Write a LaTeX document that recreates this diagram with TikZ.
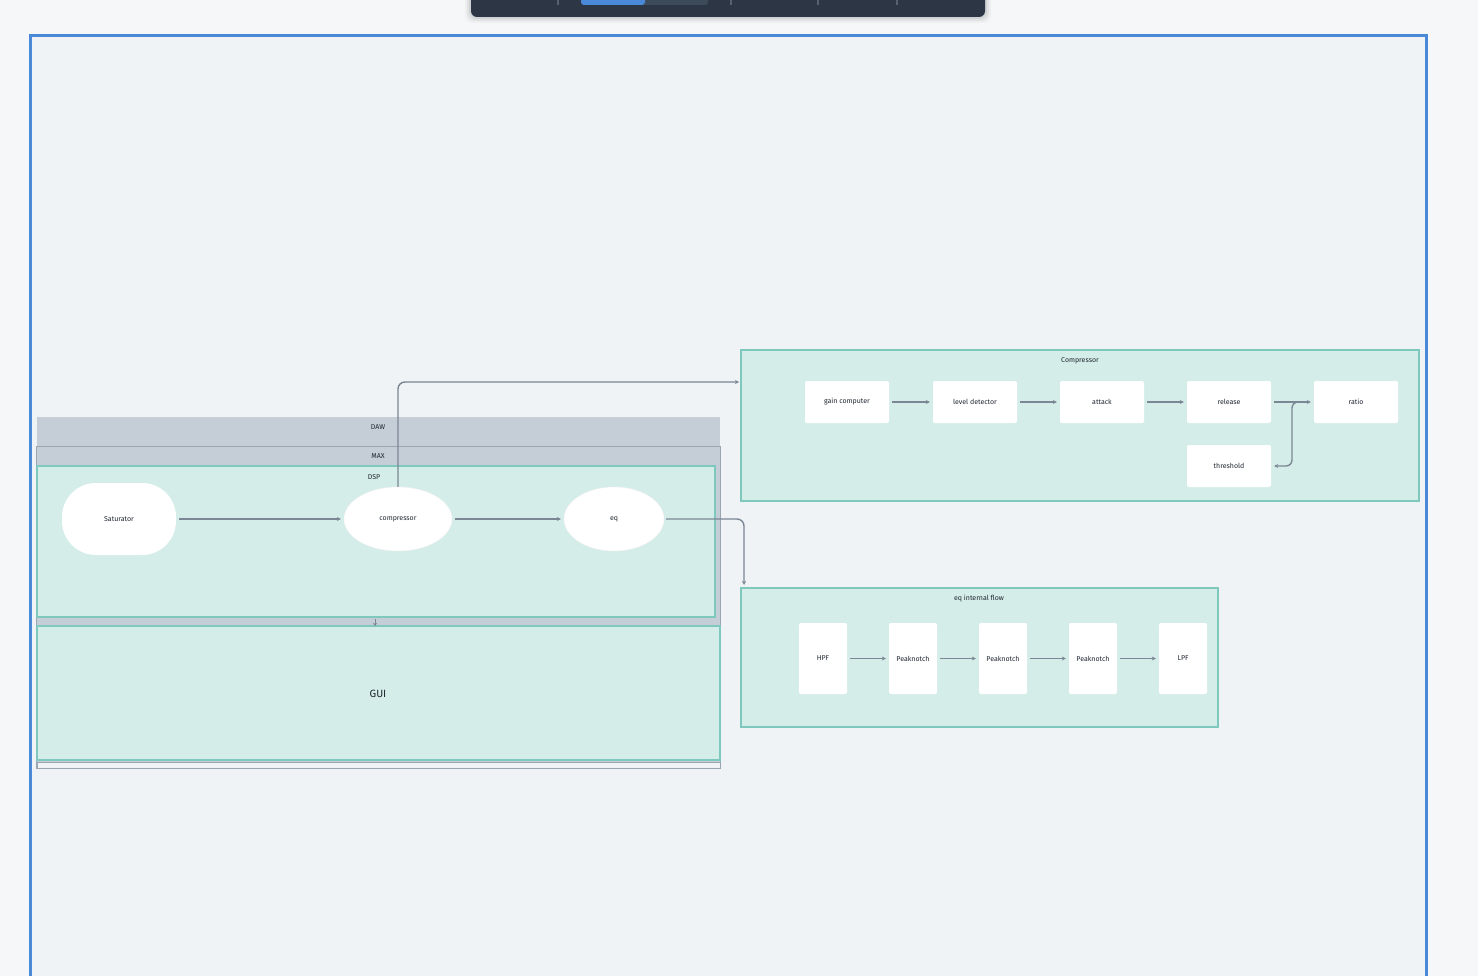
\documentclass[tikz,border=0pt]{standalone}
\usepackage{fontspec}
\setmainfont{Fira Sans}
\usetikzlibrary{shapes.geometric,arrows.meta}
\definecolor{pagebg}{HTML}{F5F7F9}
\definecolor{innerbg}{HTML}{EFF3F6}
\definecolor{frameblue}{HTML}{4A88D8}
\definecolor{tealfill}{HTML}{D5EDE9}
\definecolor{tealline}{HTML}{7EC8BD}
\definecolor{grayfill}{HTML}{C5CED7}
\definecolor{grayline}{HTML}{9AA5B1}
\definecolor{arrowc}{HTML}{7B8794}
\definecolor{toolbar}{HTML}{2C3644}
\definecolor{toolbar2}{HTML}{3D4A5A}
\definecolor{tick}{HTML}{556172}
\definecolor{txt}{HTML}{1F2630}
\tikzset{
  container/.style={draw=tealline, fill=tealfill, line width=1.2pt, inner sep=0pt},
  graybox/.style={fill=grayfill, inner sep=0pt},
  wbox/.style={fill=white, rounded corners=2pt, inner sep=0pt, font=\fontsize{7}{8}\selectfont, text=txt},
  oval/.style={ellipse, fill=white, draw=white!90!gray, inner sep=0pt, font=\fontsize{7}{8}\selectfont, text=txt},
  lbl/.style={font=\fontsize{7}{8}\selectfont, text=txt, inner sep=0pt},
  arr/.style={draw=arrowc, line width=1.4pt, -{Stealth[length=4pt,width=4pt]}},
}
\begin{document}
\begin{tikzpicture}[x=1pt,y=-1pt]
\useasboundingbox (0,0) rectangle (1478,976);
\fill[pagebg] (0,0) rectangle (1478,976);
% frame
\fill[innerbg] (30,36) rectangle (1426,980);
\draw[frameblue, line width=3pt] (30,980) -- (30,36) -- (1426,36) -- (1426,980);
% toolbar with shadow
\foreach \i/\o in {6/0.03,4/0.05,2/0.07}{
  \fill[black, opacity=\o, rounded corners=8pt] (471-\i,-10) rectangle (985+\i,17+\i);
}
\fill[toolbar, rounded corners=6pt] (471,-10) rectangle (985,17);
\fill[toolbar2, rounded corners=3pt] (581,-5) rectangle (708,5);
\fill[frameblue, rounded corners=3pt] (581,-5) rectangle (645,5);
\foreach \x in {558,731,818,897}{ \fill[tick] (\x-1,0) rectangle (\x+1,5); }

% DAW / MAX
\node[graybox, minimum width=683, minimum height=351] (daw) at (378.5,592.5) {};
\node[lbl] (dawl) at (378,427) {DAW};
\node[draw=grayline, line width=1pt, inner sep=0pt, minimum width=684, minimum height=322] (max) at (378,607) {};
\node[lbl] (maxl) at (378,456) {MAX};
\node[draw=grayline, fill=innerbg, line width=0.8pt, inner sep=0pt, minimum width=683, minimum height=6] (strip) at (378.5,765) {};
% DSP
\node[container, minimum width=678, minimum height=151] (dsp) at (376,541.5) {};
\node[lbl] (dspl) at (374,477) {DSP};
% GUI
\node[container, minimum width=683, minimum height=134] (gui) at (378.5,693) {};
\node[font=\fontsize{10.5}{12}\selectfont, text=txt] (guil) at (378,694) {GUI};
\draw[draw=arrowc, line width=1pt, -{Stealth[length=3pt,width=4pt]}] (375,619) -- (375,626);

% DSP nodes
\node[fill=white, rounded corners=34pt, minimum width=114, minimum height=72, inner sep=0pt, font=\fontsize{7}{8}\selectfont, text=txt] (sat) at (119,519) {Saturator};
\node[oval, minimum width=108, minimum height=64] (comp) at (398,519) {compressor};
\node[oval, minimum width=100, minimum height=64] (eq) at (614,519) {eq};
\draw[arr, shorten <=3pt, shorten >=3pt] (sat.east) -- (comp.west);
\draw[arr, shorten <=3pt, shorten >=3pt] (comp.east) -- (eq.west);

% Compressor box
\node[container, minimum width=678, minimum height=151] (cbox) at (1080,425.5) {};
\node[lbl] (cboxl) at (1080,361) {Compressor};
\node[wbox, minimum width=84, minimum height=42] (gc) at (847,402) {gain computer};
\node[wbox, minimum width=84, minimum height=42] (ld) at (975,402) {level detector};
\node[wbox, minimum width=84, minimum height=42] (att) at (1102,402) {attack};
\node[wbox, minimum width=84, minimum height=42] (rel) at (1229,402) {release};
\node[wbox, minimum width=84, minimum height=42] (rat) at (1356,402) {ratio};
\node[wbox, minimum width=84, minimum height=42] (thr) at (1229,466) {threshold};
\draw[arr, shorten <=3pt, shorten >=3pt] (gc) -- (ld);
\draw[arr, shorten <=3pt, shorten >=3pt] (ld) -- (att);
\draw[arr, shorten <=3pt, shorten >=3pt] (att) -- (rel);
\draw[arr, shorten <=3pt, shorten >=3pt] (rel) -- (rat);
\coordinate (br) at (1303,402);
\draw[arr, rounded corners=6pt, shorten >=3pt] (br) -| (1292,466) -- (thr.east);

% compressor -> Compressor box
\coordinate (cin) at (739,382);
\draw[arr, rounded corners=7pt] (comp.north) |- (cin);

% eq internal flow
\node[container, minimum width=477, minimum height=139] (ebox) at (979.5,657.5) {};
\node[lbl] (eboxl) at (979,599) {eq internal flow};
\node[wbox, minimum width=48, minimum height=71] (hpf) at (823,658.5) {HPF};
\node[wbox, minimum width=48, minimum height=71] (pn1) at (913,658.5) {Peaknotch};
\node[wbox, minimum width=48, minimum height=71] (pn2) at (1003,658.5) {Peaknotch};
\node[wbox, minimum width=48, minimum height=71] (pn3) at (1093,658.5) {Peaknotch};
\node[wbox, minimum width=48, minimum height=71] (lpf) at (1183,658.5) {LPF};
\draw[arr, shorten <=3pt, shorten >=3pt] (hpf) -- (pn1);
\draw[arr, shorten <=3pt, shorten >=3pt] (pn1) -- (pn2);
\draw[arr, shorten <=3pt, shorten >=3pt] (pn2) -- (pn3);
\draw[arr, shorten <=3pt, shorten >=3pt] (pn3) -- (lpf);

% eq -> eq internal flow
\coordinate (ein) at (744,585);
\draw[arr, rounded corners=7pt, shorten <=2pt] (eq.east) -| (ein);
\end{tikzpicture}
\end{document}
